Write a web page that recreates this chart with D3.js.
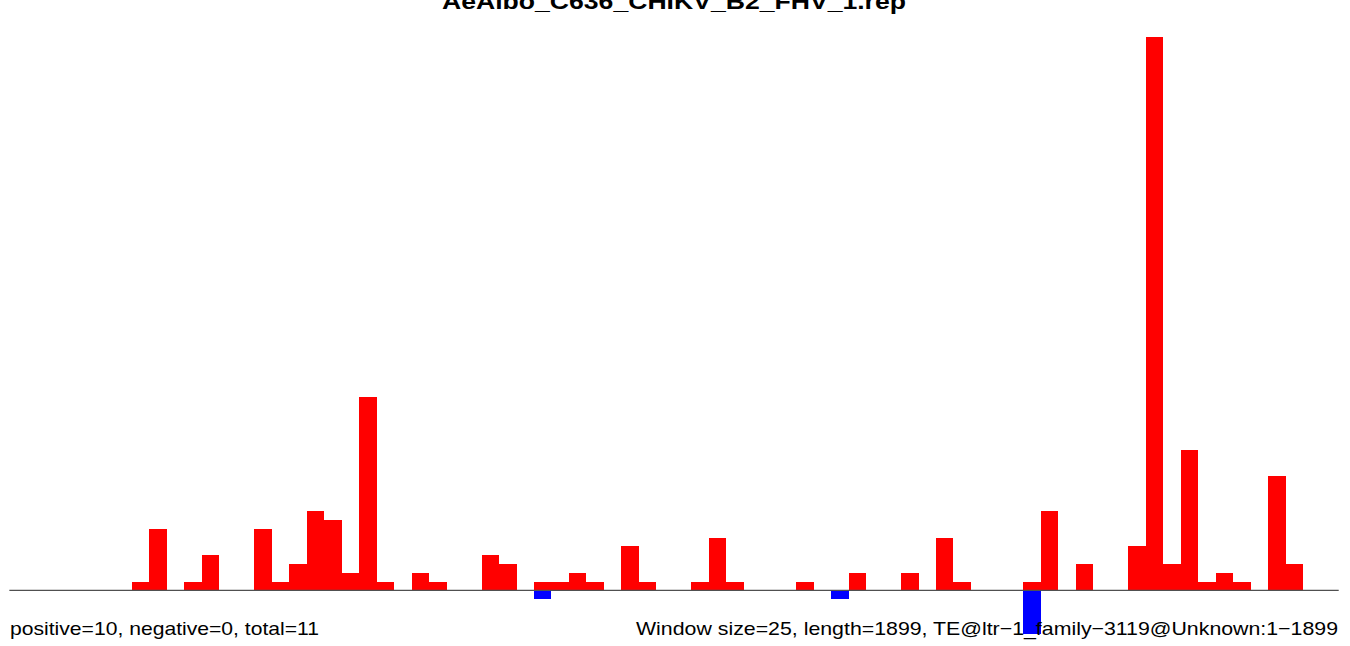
<!DOCTYPE html>
<html>
<head>
<meta charset="utf-8">
<script src="https://cdn.jsdelivr.net/npm/d3@7"></script>
<style>
  html, body { margin: 0; padding: 0; background: #fff; }
  svg { display: block; }
  text { font-family: "Liberation Sans", Arial, sans-serif; }
</style>
</head>
<body>
<svg id="chart" width="1350" height="646"></svg>
<script>
const title = "AeAlbo_C636_CHIKV_B2_FHV_1.rep";
const leftNote = "positive=10, negative=0, total=11";
const rightNote = "Window size=25, length=1899, TE@ltr\u22121_family\u22123119@Unknown:1\u22121899";
const windowSize = 25;
const seqLength = 1899;

// counts per 25-bp window (76 windows)
const positiveCounts = [
  0,0,0,0,0,0,0,1,7,0,
  1,4,0,0,7,1,3,9,8,2,
  22,1,0,2,1,0,0,4,3,0,
  1,1,2,1,0,5,1,0,0,1,
  6,1,0,0,0,1,0,0,2,0,
  0,2,0,6,1,0,0,0,1,9,
  0,3,0,0,5,63,3,16,1,2,
  1,0,13,3,0,0
];
const negativeCounts = [
  0,0,0,0,0,0,0,0,0,0,
  0,0,0,0,0,0,0,0,0,0,
  0,0,0,0,0,0,0,0,0,0,
  1,0,0,0,0,0,0,0,0,0,
  0,0,0,0,0,0,0,1,0,0,
  0,0,0,0,0,0,0,0,5,0,
  0,0,0,0,0,0,0,0,0,0,
  0,0,0,0,0,0
];

const svg = d3.select("#chart");
const nWin = positiveCounts.length;

const x = d3.scaleLinear().domain([0, nWin * windowSize]).range([9.65, 1338]);
const unit = 8.775;
const base = 590.3;
const y = d3.scaleLinear().domain([0, 63]).range([base, base - 63 * unit]);

const winStarts = d3.range(nWin).map(i => i * windowSize);

// positive (red) bars
svg.append("g").selectAll("rect")
  .data(winStarts.map((s, i) => ({s, v: positiveCounts[i]})).filter(d => d.v > 0))
  .join("rect")
  .attr("x", d => x(d.s))
  .attr("width", d => x(d.s + windowSize) - x(d.s))
  .attr("y", d => y(d.v))
  .attr("height", d => y(0) - y(d.v))
  .attr("fill", "#ff0000")
  .attr("shape-rendering", "crispEdges");

// negative (blue) bars
svg.append("g").selectAll("rect")
  .data(winStarts.map((s, i) => ({s, v: negativeCounts[i]})).filter(d => d.v > 0))
  .join("rect")
  .attr("x", d => x(d.s))
  .attr("width", d => x(d.s + windowSize) - x(d.s))
  .attr("y", y(0))
  .attr("height", d => y(-d.v) - y(0))
  .attr("fill", "#0000ff")
  .attr("shape-rendering", "crispEdges");

// baseline
svg.append("line")
  .attr("x1", x(0) - 0.3).attr("x2", x(nWin * windowSize) + 0.7)
  .attr("y1", base).attr("y2", base)
  .attr("stroke", "#505050").attr("stroke-width", 1.3);

// title
svg.append("text")
  .attr("x", 442).attr("y", 9)
  .attr("font-size", 22).attr("font-weight", "bold")
  .attr("textLength", 464).attr("lengthAdjust", "spacingAndGlyphs")
  .attr("fill", "#000")
  .text(title);

// bottom notes
svg.append("text")
  .attr("x", 10).attr("y", 634.5)
  .attr("font-size", 18.5)
  .attr("textLength", 309).attr("lengthAdjust", "spacingAndGlyphs")
  .attr("fill", "#000")
  .text(leftNote);

svg.append("text")
  .attr("x", 636).attr("y", 634.5)
  .attr("font-size", 18.5)
  .attr("textLength", 702).attr("lengthAdjust", "spacingAndGlyphs")
  .attr("fill", "#000")
  .text(rightNote);
</script>
</body>
</html>
